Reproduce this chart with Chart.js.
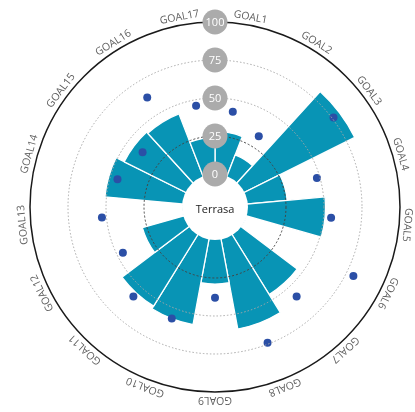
<!DOCTYPE html>
<html>
<head>
<meta charset="utf-8">
<script src="https://cdn.jsdelivr.net/npm/chart.js@4.4.1/dist/chart.umd.min.js"></script>
<style>
  html, body { margin: 0; padding: 0; background: #fff; }
  #wrap { width: 415px; height: 412px; }
</style>
</head>
<body>
<div id="wrap"><canvas id="chart"></canvas></div>
<script>
// goal names, one sector each
const goals = ["GOAL1", "GOAL2", "GOAL3", "GOAL4", "GOAL5", "GOAL6", "GOAL7", "GOAL8", "GOAL9",
  "GOAL10", "GOAL11", "GOAL12", "GOAL13", "GOAL14", "GOAL15", "GOAL16", "GOAL17"];
// bar values (teal sectors)
const scores = [28, 15, 81, 26, 51, 0, 46, 60, 29, 57, 55, 28, 0, 51, 45, 44, 24];
// dot values (blue points)
const targets = [42, 33, 76, 48, 55, 80, 58, 74, 38, 57, 58, 46, 53, 45, 38, 63, 46];
// radial tick labels
const tickValues = [0, 25, 50, 75, 100];
const centerName = "Terrasa";

// two angular slots per goal so the dots sit in the middle of each sector
const slotLabels = goals.flatMap(g => ["", g]);
const dotData = targets.flatMap(t => [null, t]);

const fontFamily = '"Open Sans", "DejaVu Sans", sans-serif';

const decor = {
  id: "decor",
  afterDatasetsDraw(chart) {
    const s = chart.scales.r;
    const ctx = chart.ctx;
    // centre hole
    ctx.save();
    ctx.beginPath();
    ctx.arc(s.xCenter, s.yCenter, s.getDistanceFromCenterForValue(0), 0, Math.PI * 2);
    ctx.fillStyle = "#fff";
    ctx.fill();
    ctx.restore();
  },
  afterDraw(chart) {
    const s = chart.scales.r;
    const ctx = chart.ctx;
    ctx.save();
    // goal names along the rim
    ctx.font = "10.5px " + fontFamily;
    ctx.fillStyle = "#5e5e5e";
    ctx.textAlign = "center";
    ctx.textBaseline = "middle";
    chart.data.labels.forEach((lab, i) => {
      if (!lab) return;
      ctx.save();
      ctx.translate(s.xCenter, s.yCenter);
      ctx.rotate(s.getIndexAngle(i));
      ctx.fillText(lab, 0, -(s.drawingArea + 8));
      ctx.restore();
    });
    // tick bubbles on the vertical axis
    s.ticks.forEach(t => {
      const y = s.yCenter - s.getDistanceFromCenterForValue(t.value);
      ctx.beginPath();
      ctx.arc(s.xCenter, y, 12.5, 0, Math.PI * 2);
      ctx.fillStyle = "#ababab";
      ctx.fill();
      ctx.fillStyle = "#fff";
      ctx.font = "11px " + fontFamily;
      ctx.fillText(String(t.value), s.xCenter, y + 0.5);
    });
    // centre name
    ctx.fillStyle = "#222";
    ctx.font = "11px " + fontFamily;
    ctx.fillText(centerName, s.xCenter, s.yCenter + 3);
    ctx.restore();
  }
};

new Chart(document.getElementById("chart"), {
  type: "polarArea",
  plugins: [decor],
  data: {
    labels: slotLabels,
    datasets: [
      {
        type: "polarArea",
        order: 2,
        data: scores,
        backgroundColor: "#0894b5",
        borderColor: "#ffffff",
        borderWidth: 1.3
      },
      {
        type: "radar",
        order: 1,
        data: dotData,
        showLine: false,
        pointRadius: 4,
        pointBorderWidth: 0,
        pointBackgroundColor: "#2b4fa6",
        borderColor: "transparent"
      }
    ]
  },
  options: {
    responsive: true,
    maintainAspectRatio: false,
    animation: false,
    layout: { padding: { left: 30, right: 15, top: 22, bottom: 20 } },
    plugins: { legend: { display: false }, tooltip: { enabled: false } },
    scales: {
      r: {
        min: -21.7,
        max: 100,
        afterBuildTicks: s => { s.ticks = tickValues.map(v => ({ value: v })); },
        ticks: { display: false },
        angleLines: { display: false },
        pointLabels: { display: false },
        grid: {
          circular: true,
          z: 1,
          color: c => {
            const v = c.tick.value;
            if (v === 0) return "transparent";
            if (v === 100) return "#1a1a1a";
            if (v === 25) return "#444";
            return "#a8a8a8";
          },
          lineWidth: c => (c.tick.value === 100 ? 1.5 : 1)
        },
        border: {
          dash: c => {
            const v = c.tick.value;
            if (v === 100) return [];
            if (v === 25) return [2, 2];
            return [1.5, 2];
          }
        }
      }
    }
  }
});
</script>
</body>
</html>
